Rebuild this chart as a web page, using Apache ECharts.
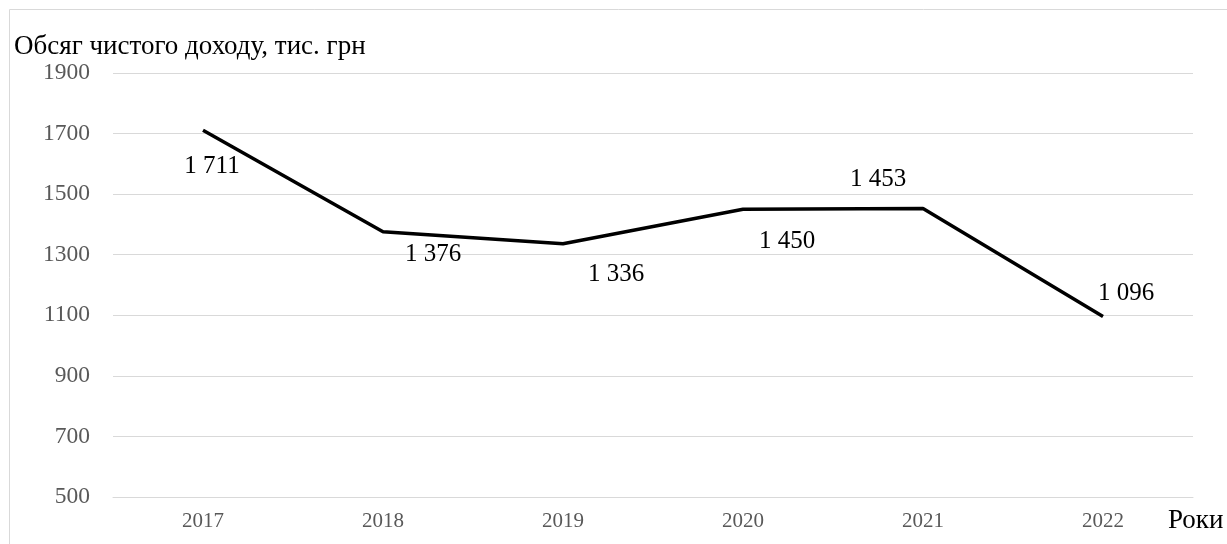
<!DOCTYPE html>
<html><head><meta charset="utf-8">
<script src="https://cdn.jsdelivr.net/npm/echarts@6/dist/echarts.min.js"></script>
<style>html,body{margin:0;padding:0;background:#fff}#c{width:1227px;height:544px}</style>
</head><body><div id="c"></div>
<script>
const years = ['2017','2018','2019','2020','2021','2022'];
const income = [1711, 1376, 1336, 1450, 1453, 1096];
const yTicks = { min: 500, max: 1900, interval: 200 };
const yName = 'Обсяг чистого доходу, тис. грн';
const xName = 'Роки';
const labelOffsets = [[9,36],[50,23],[53,31],[44,32],[-45,-29],[23,-23]];

const font = '"Liberation Serif","Times New Roman",serif';
const fmt = v => String(v).replace(/\B(?=(\d{3})+(?!\d))/g, ' ');

const chart = echarts.init(document.getElementById('c'));
chart.setOption({
  animation: false,
  graphic: [
    { type: 'rect', shape: { x: 9.5, y: 9.5, width: 1240, height: 560 }, style: { fill: 'none', stroke: '#d9d9d9', lineWidth: 1 }, z: -1 },
    { type: 'text', left: 14, top: 33, style: { text: yName, font: '27px ' + font, fill: '#000' } },
    { type: 'text', left: 1168, top: 507, style: { text: xName, font: '27px ' + font, fill: '#000' } }
  ],
  grid: { left: 113, right: 34, top: 73, bottom: 47, containLabel: false, outerBoundsMode: 'none' },
  xAxis: {
    type: 'category', data: years, boundaryGap: true,
    axisLine: { show: true, lineStyle: { color: '#d9d9d9', width: 1 } },
    axisTick: { show: false },
    axisLabel: { fontFamily: font, fontSize: 21, color: '#595959', margin: 14 }
  },
  yAxis: {
    type: 'value', min: yTicks.min, max: yTicks.max, interval: yTicks.interval,
    axisLine: { show: false }, axisTick: { show: false },
    splitLine: { lineStyle: { color: '#d9d9d9', width: 1 } },
    axisLabel: { fontFamily: font, fontSize: 23.5, color: '#595959', margin: 23, formatter: v => String(v) }
  },
  series: [{
    type: 'line',
    data: income.map((v, i) => ({ value: v, label: { offset: labelOffsets[i] } })),
    symbol: 'circle', symbolSize: 1, showSymbol: true,
    itemStyle: { color: 'rgba(0,0,0,0)' },
    lineStyle: { color: '#000', width: 3.5 },
    label: { show: true, position: 'inside', align: 'center', verticalAlign: 'middle',
      fontFamily: font, fontSize: 25, color: '#000', formatter: p => fmt(p.value) }
  }]
});
</script></body></html>
